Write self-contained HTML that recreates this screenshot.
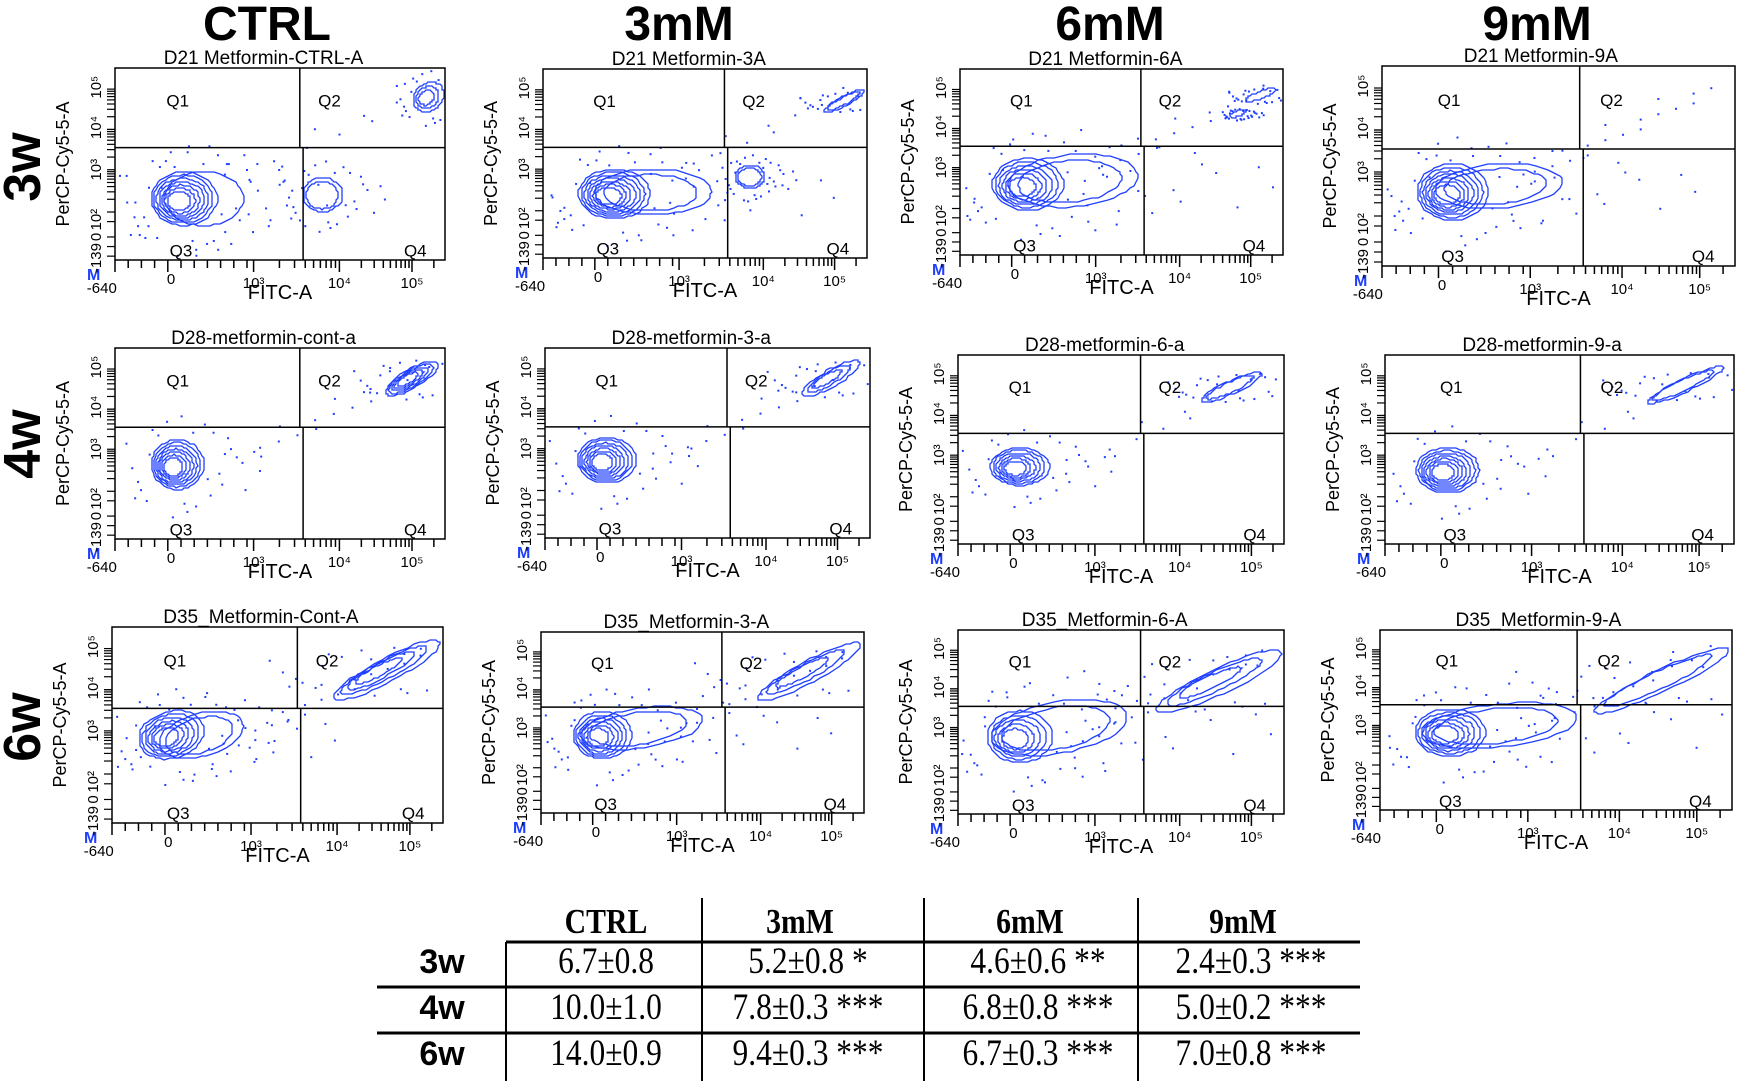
<!DOCTYPE html>
<html><head><meta charset="utf-8"><style>
html,body{margin:0;padding:0;background:#fff;}
svg{display:block;}
</style></head><body>
<svg id="fig" width="1739" height="1081" viewBox="0 0 1739 1081" xmlns="http://www.w3.org/2000/svg" font-family="Liberation Sans, sans-serif">
<g id="heads" font-weight="bold" font-size="48" text-anchor="middle">
<text x="267" y="40">CTRL</text>
<text x="679" y="40">3mM</text>
<text x="1110" y="40">6mM</text>
<text x="1537" y="40">9mM</text>
</g>
<g font-weight="bold" font-size="52" text-anchor="middle">
<text transform="translate(40,167) rotate(-90)">3w</text>
<text transform="translate(40,444) rotate(-90)">4w</text>
<text transform="translate(40,727) rotate(-90)">6w</text>
</g>
<g id="plots"></g>
<g id="table" font-family="Liberation Serif, serif"></g>
</svg>
<script>
// ---- plot data (fractions of frame: x from left, y from top) ----
const plotTitles = ["D21 Metformin-CTRL-A","D21 Metformin-3A","D21 Metformin-6A","D21 Metformin-9A",
 "D28-metformin-cont-a","D28-metformin-3-a","D28-metformin-6-a","D28-metformin-9-a",
 "D35_Metformin-Cont-A","D35_Metformin-3-A","D35_Metformin-6-A","D35_Metformin-9-A"];
const frames = [[115,68,330,192],[543,69,324,189],[960,69,323,186],[1382,66,353,200],
 [115,348,330,191],[545,348,325,190],[958,355,326,189],[1385,355,349,189],
 [112,627,331,196],[541,632,323,181],[958,630,326,184],[1380,630,352,180]];
// populations per plot: [cx, cy, rx, ry, levels, angleDeg]
const mainPops = [
 [[0.21,0.68,0.10,0.14,7,0],[0.27,0.68,0.12,0.14,1,0],[0.63,0.66,0.06,0.09,2,0],[0.95,0.15,0.05,0.07,3,-40]],
 [[0.22,0.66,0.11,0.13,7,0],[0.34,0.65,0.18,0.12,2,0],[0.64,0.57,0.045,0.06,2,0],[0.93,0.17,0.07,0.025,2,-28]],
 [[0.21,0.62,0.11,0.14,6,0],[0.35,0.60,0.20,0.14,2,-5],[0.93,0.14,0.05,0.02,1,-20],[0.86,0.24,0.025,0.015,1,-20]],
 [[0.20,0.63,0.10,0.14,7,0],[0.33,0.60,0.18,0.11,2,-4]],
 [[0.19,0.61,0.08,0.13,7,0],[0.90,0.16,0.09,0.05,5,-30]],
 [[0.19,0.59,0.09,0.12,7,0],[0.88,0.16,0.10,0.045,3,-30]],
 [[0.19,0.59,0.09,0.10,6,0],[0.84,0.17,0.10,0.035,2,-25]],
 [[0.18,0.61,0.09,0.12,7,0],[0.86,0.16,0.12,0.035,2,-25]],
 [[0.18,0.55,0.10,0.12,6,-15],[0.27,0.55,0.13,0.11,2,-15],[0.83,0.22,0.18,0.06,4,-28]],
 [[0.19,0.57,0.09,0.13,6,0],[0.31,0.53,0.19,0.11,2,-8],[0.83,0.22,0.18,0.06,3,-28]],
 [[0.19,0.58,0.10,0.14,5,0],[0.31,0.53,0.21,0.14,2,-10],[0.80,0.28,0.21,0.07,3,-25]],
 [[0.20,0.57,0.10,0.13,6,0],[0.34,0.53,0.22,0.12,2,-6],[0.80,0.28,0.21,0.06,2,-25]]];
// scatter dot offsets shared (relative to population radius)
const dotDX = [-1.3,1.2,-0.9,1.5,0.2,-1.6,1.8,0.6,-0.4,1.1,-1.1,2.0,0.9,-1.8,0.3,1.4,-0.7,2.3,-1.4,1.7,0.1,-0.2,2.6,1.0,-1.0,2.8,0.5,-1.5];
const dotDY = [0.9,-1.2,-1.3,0.7,1.4,0.1,-0.6,1.5,-1.6,1.1,1.3,-0.3,-1.5,-0.8,1.7,0.3,-1.1,0.9,0.6,-1.0,-1.8,1.9,-0.5,0.5,-0.4,0.2,-1.2,1.2];
// diagonal double-positive trail strength per plot (0..1)
const trail = [0.5,0.6,0.8,0.9,0.8,0.8,0.6,0.6,0.9,0.9,0.9,0.8];

const BLUE="#1f3fff";
const root=document.getElementById('plots');
const NS="http://www.w3.org/2000/svg";
function mk(tag,attrs,parent){const e=document.createElementNS(NS,tag);for(const k in attrs)e.setAttribute(k,attrs[k]);parent.appendChild(e);return e;}

for(let p=0;p<12;p++){
 const [fx,fy,fw,fh]=frames[p];
 const xs=f=>fx+f*fw, ys=f=>fy+f*fh;
 const g=mk('g',{},root);
 
 
 const t=mk('text',{x:fx+fw*0.45,y:fy-4,'font-size':19,'text-anchor':'middle'},g);
 
 
 t.textContent=plotTitles[p];
 const pops=mainPops[p];
 pops.forEach(pp=>{
  const [cx,cy,rx,ry,lv,ang]=pp;const a=ang*Math.PI/180;
  for(let k=1;k<=lv;k++){
   const s=k/lv;const sc=lv>2?(0.25+0.75*s):(0.6+0.4*s);
   const ox=(1-sc)*rx*0.25, oy=(1-sc)*ry*0.15;
   let pts=[];
   for(let i=0;i<48;i++){const th=i/48*2*Math.PI;
    const ex=Math.cos(th)*rx*sc*fw, ey=Math.sin(th)*ry*sc*fh;
    const X=xs(cx-ox)+ex*Math.cos(a)-ey*Math.sin(a), Y=ys(cy+oy)+ex*Math.sin(a)+ey*Math.cos(a);
    pts.push((Math.round(X/2)*2)+','+(Math.round(Y/2)*2));}
   const pl=mk('polygon',{points:pts.join(' '),fill:'none',stroke:BLUE,'stroke-width':1.3},g);
   
   
  }
  dotDX.forEach((dx,i)=>{
   const X=xs(cx+dx*rx*1.1), Y=ys(cy+dotDY[i]*ry*1.1);
   if(X<fx+2||X>fx+fw-2||Y<fy+2||Y>fy+fh-2)return;
   const d=mk('rect',{x:X,y:Y,width:2,height:2,fill:BLUE},g);
   
   
  });
 });
 const nT=Math.round(22*trail[p]);
 for(let i=0;i<nT;i++){const f=i/nT;const X=xs(0.35+f*0.6+((i*7)%5-2)*0.01), Y=ys(0.6-f*0.52+((i*3)%5-2)*0.025);
  const d=mk('rect',{x:X,y:Y,width:2,height:2,fill:BLUE},g);
  
  }
 mk('rect',{x:fx,y:fy,width:fw,height:fh,fill:'none',stroke:'#000','stroke-width':1.5},g);
 const hY=ys(0.415);
 mk('line',{x1:fx,y1:hY,x2:fx+fw,y2:hY,stroke:'#000','stroke-width':1.5},g);
 mk('line',{x1:xs(0.56),y1:fy,x2:xs(0.56),y2:hY,stroke:'#000','stroke-width':1.5},g);
 mk('line',{x1:xs(0.57),y1:hY,x2:xs(0.57),y2:fy+fh,stroke:'#000','stroke-width':1.5},g);
 [['Q1',0.19,0.17],['Q2',0.65,0.17],['Q3',0.2,0.95],['Q4',0.91,0.95]].forEach(q=>{
  const e=mk('text',{x:xs(q[1]),y:ys(q[2])+6,'font-size':17,'text-anchor':'middle'},g);
  
  
  e.textContent=q[0];});
 const by=fy+fh;
 let xt=[];for(let i=0;i<=10;i++)xt.push(i*0.04);
 [0.42,0.68].forEach(s=>{for(let k=1;k<10;k++)xt.push(s+Math.log10(k)*0.26*(s==0.68?0.85:1));});
 for(let k=1;k<=3;k++)xt.push(0.9+Math.log10(k)*0.22);
 xt.forEach(f=>{if(f>1)return;mk('line',{x1:xs(f),y1:by,x2:xs(f),y2:by+([0,0.16,0.42,0.68,0.9].some(m=>Math.abs(m-f)<0.005)?12:8),stroke:'#000','stroke-width':1.5},g);});
 [['-640',-0.04,33],['0',0.17,24],['10³',0.42,28],['10⁴',0.68,28],['10⁵',0.9,28]].forEach(l=>{
  const e=mk('text',{x:xs(l[1]),y:by+l[2],'font-size':15,'text-anchor':'middle'},g);
  
  
  e.textContent=l[0];});
 const xl=mk('text',{x:xs(0.5),y:by+39,'font-size':20,'text-anchor':'middle'},g);
 
 
 xl.textContent='FITC-A';
 const M=mk('text',{x:fx-28,y:by+20,'font-size':16,'font-weight':'bold',fill:BLUE},g);
 
 
 M.textContent='M';
 let yt=[0.98,0.93,0.88,0.8];[0.53,0.31,0.1].forEach(s=>{for(let k=1;k<10;k++)yt.push(s+0.22-Math.log10(k)*0.22);});
 yt.forEach(f=>{if(f<0.01)return;mk('line',{x1:fx-8,y1:ys(f),x2:fx,y2:ys(f),stroke:'#000','stroke-width':1.2},g);});
 [['10⁵',0.1],['10⁴',0.31],['10³',0.53],['10²',0.79],['0',0.88],['-139',0.99]].forEach(l=>{
  const e=mk('text',{transform:`translate(${fx-14},${ys(l[1])}) rotate(-90)`,'font-size':15,'text-anchor':'middle'},g);
  
  
  e.textContent=l[0];});
 const yl=mk('text',{transform:`translate(${fx-46},${ys(0.5)}) rotate(-90)`,'font-size':18,'text-anchor':'middle'},g);
 
 
 yl.textContent='PerCP-Cy5-5-A';
}

// ---- table ----
const colHeads=["CTRL","3mM","6mM","9mM"];
const rowHeads=["3w","4w","6w"];
const cellVals=[["6.7±0.8","5.2±0.8 *","4.6±0.6 **","2.4±0.3 ***"],
 ["10.0±1.0","7.8±0.3 ***","6.8±0.8 ***","5.0±0.2 ***"],
 ["14.0±0.9","9.4±0.3 ***","6.7±0.3 ***","7.0±0.8 ***"]];
const tb=document.getElementById('table');
const colX=[606,800,1030,1243], rowY=[973,1019,1065];
colHeads.forEach((h,i)=>{const e=mk('text',{transform:`translate(${colX[i]},933) scale(0.85,1)`,'font-size':35,'font-weight':'bold','text-anchor':'middle'},tb);
 
 
 e.textContent=h;});
rowHeads.forEach((h,i)=>{const e=mk('text',{x:442,y:rowY[i],'font-size':34,'font-weight':'bold','font-family':'Liberation Sans, sans-serif','text-anchor':'middle'},tb);
 
 
 e.textContent=h;});
cellVals.forEach((r,i)=>r.forEach((v,j)=>{const e=mk('text',{transform:`translate(${colX[j]+(j?8:0)},${rowY[i]}) scale(0.85,1)`,'font-size':37,'text-anchor':'middle'},tb);
 
 
 e.textContent=v;}));
mk('line',{x1:506,y1:942,x2:1360,y2:942,stroke:'#000','stroke-width':3},tb);
mk('line',{x1:377,y1:987,x2:1360,y2:987,stroke:'#000','stroke-width':3},tb);
mk('line',{x1:377,y1:1033,x2:1360,y2:1033,stroke:'#000','stroke-width':3},tb);
mk('line',{x1:506,y1:942,x2:506,y2:1081,stroke:'#000','stroke-width':2},tb);
[702,924,1138].forEach(x=>mk('line',{x1:x,y1:898,x2:x,y2:1081,stroke:'#000','stroke-width':2},tb));
</script>
</body></html>
